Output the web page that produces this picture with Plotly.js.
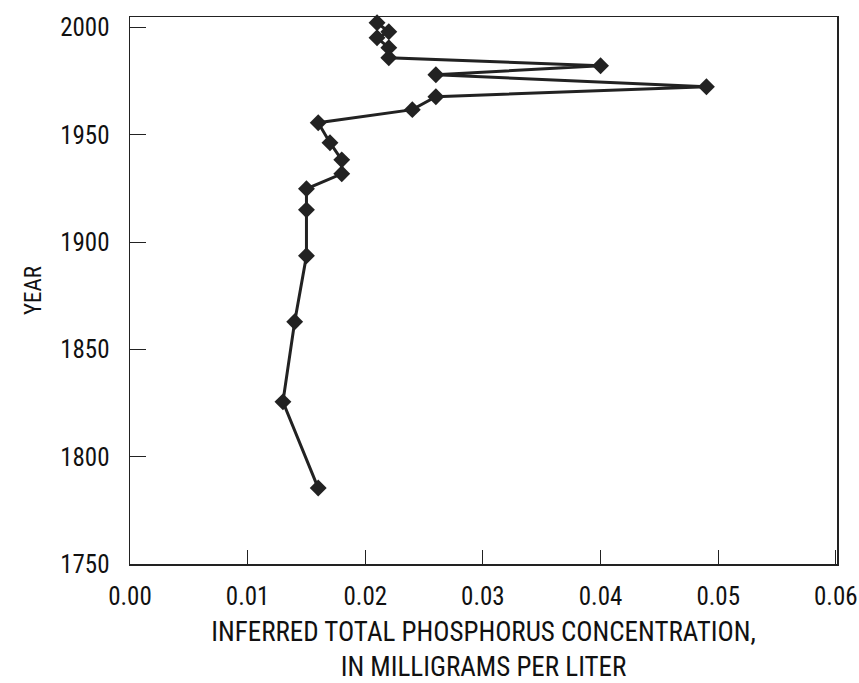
<!DOCTYPE html>
<html>
<head>
<meta charset="utf-8">
<script src="https://cdn.plot.ly/plotly-3.0.1.min.js"></script>
<style>html,body{margin:0;padding:0;background:#fff;}#chart{width:859px;height:683px;}</style>
</head>
<body>
<div id="chart"></div>
<script>
// Inferred total phosphorus concentration (mg/L) by year
const years = [2002.3, 1998.1, 1995.3, 1990.7, 1986.0, 1982.3, 1978.1, 1972.5, 1967.8, 1961.8,
               1955.7, 1946.4, 1938.4, 1931.9, 1924.9, 1915.1, 1893.7, 1862.9, 1825.6, 1785.4];
const phosphorus = [0.021, 0.022, 0.021, 0.022, 0.022, 0.040, 0.026, 0.049, 0.026, 0.024,
                    0.016, 0.017, 0.018, 0.018, 0.015, 0.015, 0.015, 0.014, 0.013, 0.016];
const xTicks = [0, 0.01, 0.02, 0.03, 0.04, 0.05, 0.06];
const yTicks = [1750, 1800, 1850, 1900, 1950, 2000];

const FONT = '"Roboto Condensed", "DejaVu Sans Condensed", sans-serif';

const trace = {
  x: phosphorus,
  y: years,
  mode: 'lines+markers',
  type: 'scatter',
  line: {color: '#222222', width: 3},
  marker: {symbol: 'diamond', size: 13, color: '#222222'},
  cliponaxis: false
};

const layout = {
  width: 859,
  height: 683,
  margin: {l: 130, r: 22, t: 17, b: 119},
  paper_bgcolor: '#ffffff',
  plot_bgcolor: '#ffffff',
  showlegend: false,
  font: {family: FONT, color: '#111111', size: 25},
  xaxis: {
    range: [0, 0.0601],
    tickvals: xTicks,
    tickformat: '.2f',
    ticks: 'inside',
    ticklen: 14,
    tickwidth: 1,
    tickcolor: '#222',
    showline: true,
    linecolor: '#222',
    linewidth: 1.5,
    mirror: true,
    showgrid: false,
    zeroline: false,
    ticklabelstandoff: 9,
    ticklabeloverflow: 'allow',
    tickfont: {family: FONT, size: 25, color: '#111'},
    title: {text: 'INFERRED TOTAL PHOSPHORUS CONCENTRATION,<br>IN MILLIGRAMS PER LITER',
            font: {family: FONT, size: 27, color: '#111'}, standoff: 18}
  },
  yaxis: {
    range: [1750, 2005],
    tickvals: yTicks,
    ticks: 'inside',
    ticklen: 16,
    tickwidth: 1,
    tickcolor: '#222',
    showline: true,
    linecolor: '#222',
    linewidth: 1.5,
    mirror: true,
    showgrid: false,
    zeroline: false,
    ticklabelstandoff: 14,
    ticklabeloverflow: 'allow',
    tickfont: {family: FONT, size: 25, color: '#111'},
    title: {text: 'YEAR', font: {family: FONT, size: 23, color: '#111'}, standoff: 12}
  }
};

Plotly.newPlot('chart', [trace], layout, {displayModeBar: false, staticPlot: true});
</script>
</body>
</html>
